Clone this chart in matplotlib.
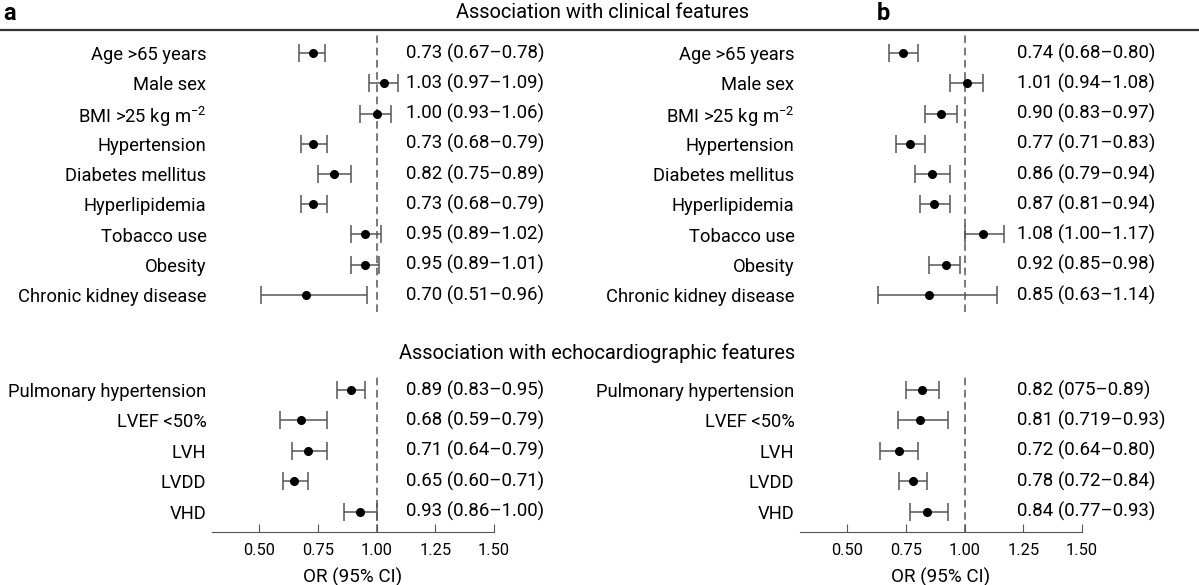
import numpy as np
import matplotlib
matplotlib.use('Agg')
import matplotlib.pyplot as plt

plt.rcParams['font.family'] = ['Roboto', 'DejaVu Sans']
plt.rcParams['mathtext.default'] = 'regular'

# clinical features
clin_labels = ['Age >65 years', 'Male sex', 'BMI >25 kg m$^{-2}$', 'Hypertension',
               'Diabetes mellitus', 'Hyperlipidemia', 'Tobacco use', 'Obesity',
               'Chronic kidney disease']
clin_a_or = [0.73, 1.03, 1.00, 0.73, 0.82, 0.73, 0.95, 0.95, 0.70]
clin_a_lo = [0.67, 0.97, 0.93, 0.68, 0.75, 0.68, 0.89, 0.89, 0.51]
clin_a_hi = [0.78, 1.09, 1.06, 0.79, 0.89, 0.79, 1.02, 1.01, 0.96]
clin_b_or = [0.74, 1.01, 0.90, 0.77, 0.86, 0.87, 1.08, 0.92, 0.85]
clin_b_lo = [0.68, 0.94, 0.83, 0.71, 0.79, 0.81, 1.00, 0.85, 0.63]
clin_b_hi = [0.80, 1.08, 0.97, 0.83, 0.94, 0.94, 1.17, 0.98, 1.14]

# echocardiographic features
echo_labels = ['Pulmonary hypertension', 'LVEF <50%', 'LVH', 'LVDD', 'VHD']
echo_a_or = [0.89, 0.68, 0.71, 0.65, 0.93]
echo_a_lo = [0.83, 0.59, 0.64, 0.60, 0.86]
echo_a_hi = [0.95, 0.79, 0.79, 0.71, 1.00]
echo_b_or = [0.82, 0.81, 0.72, 0.78, 0.84]
echo_b_lo = [0.75, 0.719, 0.64, 0.72, 0.77]
echo_b_hi = [0.89, 0.93, 0.80, 0.84, 0.93]

# text as printed in the figure
clin_a_txt = ['0.73 (0.67–0.78)', '1.03 (0.97–1.09)', '1.00 (0.93–1.06)', '0.73 (0.68–0.79)',
              '0.82 (0.75–0.89)', '0.73 (0.68–0.79)', '0.95 (0.89–1.02)', '0.95 (0.89–1.01)',
              '0.70 (0.51–0.96)']
clin_b_txt = ['0.74 (0.68–0.80)', '1.01 (0.94–1.08)', '0.90 (0.83–0.97)', '0.77 (0.71–0.83)',
              '0.86 (0.79–0.94)', '0.87 (0.81–0.94)', '1.08 (1.00–1.17)', '0.92 (0.85–0.98)',
              '0.85 (0.63–1.14)']
echo_a_txt = ['0.89 (0.83–0.95)', '0.68 (0.59–0.79)', '0.71 (0.64–0.79)', '0.65 (0.60–0.71)',
              '0.93 (0.86–1.00)']
echo_b_txt = ['0.82 (075–0.89)', '0.81 (0.719–0.93)', '0.72 (0.64–0.80)', '0.78 (0.72–0.84)',
              '0.84 (0.77–0.93)']

xticks = [0.50, 0.75, 1.00, 1.25, 1.50]

W, H = 1199, 585
fig = plt.figure(figsize=(W/100, H/100), dpi=100)

def px_axes(x0, y0, x1, y1):
    # pixel box (top-left origin) -> figure axes
    return fig.add_axes([x0/W, 1 - y1/H, (x1-x0)/W, (y1-y0)/H])

def forest(ax, labels, orr, lo, hi, txt, txt_x, y_top, y_bot, bottom_axis):
    n = len(labels)
    y = np.arange(n)
    ax.errorbar(orr, y, xerr=[np.array(orr)-np.array(lo), np.array(hi)-np.array(orr)],
                fmt='o', color='k', ms=5.5, ecolor='#555555', elinewidth=1.1,
                capsize=6.5, capthick=1.1, zorder=3)
    ax.axvline(1.0, color='#555555', ls=(0, (5, 3)), lw=1.1, zorder=1)
    ax.set_xlim(0.3, 1.5)
    ax.set_ylim(y_bot, y_top)
    ax.set_yticks(y, labels, fontsize=13.2)
    ax.tick_params(axis='y', length=0, pad=4)
    for s in ['left', 'right', 'top']:
        ax.spines[s].set_visible(False)
    for i, t in enumerate(txt):
        ax.text(txt_x, i, t, transform=ax.get_yaxis_transform(), va='center',
                ha='left', fontsize=13.4)
    if bottom_axis:
        ax.spines['bottom'].set_color('#555555')
        ax.set_xticks(xticks, ['%.2f' % v for v in xticks], fontsize=11.8)
        ax.tick_params(axis='x', direction='in', length=6, color='#555555', pad=8)
        ax.set_xlabel('OR (95% CI)', fontsize=13.6, labelpad=7)
    else:
        ax.spines['bottom'].set_visible(False)
        ax.set_xticks([])

# row pixel layout
top_y0, top_y1 = 32, 312
row0_top, dy_top = 53, 30.25
bot_y0, bot_y1 = 377, 532
row0_bot, dy_bot = 390, 30.4

panels = [(212, 494, clin_a_or, clin_a_lo, clin_a_hi, clin_a_txt,
           echo_a_or, echo_a_lo, echo_a_hi, echo_a_txt, 0.688),
          (800, 1082, clin_b_or, clin_b_lo, clin_b_hi, clin_b_txt,
           echo_b_or, echo_b_lo, echo_b_hi, echo_b_txt, 0.770)]

for (x0, x1, cor, clo, chi, ctxt, eor, elo, ehi, etxt, tx) in panels:
    ax1 = px_axes(x0, top_y0, x1, top_y1)
    forest(ax1, clin_labels, cor, clo, chi, ctxt, tx,
           -(row0_top - top_y0)/dy_top, (top_y1 - row0_top)/dy_top, False)
    ax2 = px_axes(x0, bot_y0, x1, bot_y1)
    forest(ax2, echo_labels, eor, elo, ehi, etxt, tx,
           -(row0_bot - bot_y0)/dy_bot, (bot_y1 - row0_bot)/dy_bot, True)

# headers
fig.text(602/W, 1 - 13/H, 'Association with clinical features', ha='center', va='center',
         fontsize=14.4)
fig.text(597/W, 1 - 353/H, 'Association with echocardiographic features', ha='center',
         va='center', fontsize=14.4)
fig.text(3/W, 1 - 13/H, 'a', ha='left', va='center', fontsize=17, fontweight='bold')
fig.text(877/W, 1 - 13/H, 'b', ha='left', va='center', fontsize=17, fontweight='bold')
fig.add_artist(plt.Line2D([0, 1], [1 - 30/H, 1 - 30/H], color='#333333', lw=1.6))

fig.savefig('out.png', dpi=100, facecolor='white')
